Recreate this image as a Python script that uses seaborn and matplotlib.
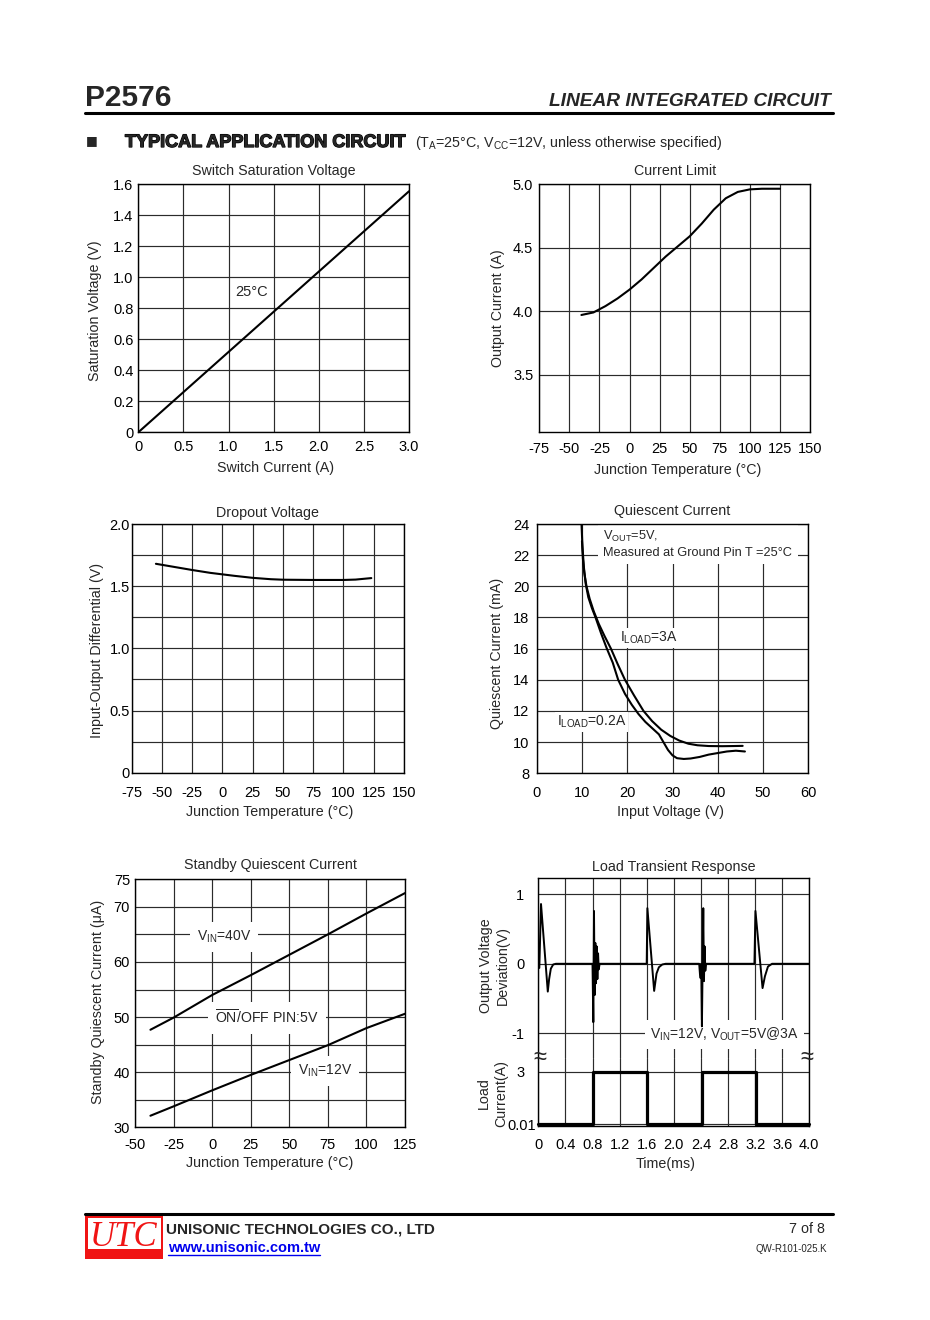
import matplotlib
matplotlib.use("Agg")
import matplotlib.pyplot as plt
import matplotlib.patheffects as pe
import seaborn as sns
from matplotlib.patches import Rectangle
from matplotlib.lines import Line2D

# ---- values ----
# Switch Saturation Voltage
sat_current = [0.0, 3.0]
sat_voltage = [0.0, 1.555]
sat_xticks = [0, 0.5, 1.0, 1.5, 2.0, 2.5, 3.0]
sat_xlabels = ['0', '0.5', '1.0', '1.5', '2.0', '2.5', '3.0']
sat_yticks = [0, 0.2, 0.4, 0.6, 0.8, 1.0, 1.2, 1.4, 1.6]
sat_ylabels = ['0', '0.2', '0.4', '0.6', '0.8', '1.0', '1.2', '1.4', '1.6']

# junction temperature axis (current limit / dropout)
temp_ticks = [-75, -50, -25, 0, 25, 50, 75, 100, 125, 150]
temp_labels = ['-75', '-50', '-25', '0', '25', '50', '75', '100', '125', '150']

# Current Limit
lim_temp = [-40, -30, -20, -10, 0, 10, 20, 30, 40, 50, 60, 70, 80, 90, 100, 110, 125]
lim_current = [3.97, 3.99, 4.04, 4.10, 4.17, 4.25, 4.34, 4.43, 4.51, 4.59, 4.69, 4.80,
               4.89, 4.94, 4.96, 4.965, 4.965]
lim_yticks = [3.5, 4.0, 4.5, 5.0]
lim_ylabels = ['3.5', '4.0', '4.5', '5.0']

# Dropout Voltage
drop_temp = [-55, -40, -25, -10, 0, 10, 25, 40, 50, 75, 100, 110, 123]
drop_volt = [1.68, 1.655, 1.63, 1.607, 1.595, 1.583, 1.567, 1.556, 1.552, 1.55, 1.55, 1.553, 1.565]
drop_yticks = [0, 0.5, 1.0, 1.5, 2.0]
drop_ylabels = ['0', '0.5', '1.0', '1.5', '2.0']
drop_yminor = [0.25, 0.75, 1.25, 1.75]

# Quiescent Current
q_vin_a = [9.9, 10.1, 10.4, 10.8, 11.4, 12.2, 13.0, 14.2, 15.5, 16.8, 18.0, 19.5, 21.0, 22.5,
           24.0, 25.5, 27.0, 28.0, 29.0, 30.0, 31.0, 32.5, 34.0, 36.0, 38.0, 40.0, 42.0, 44.0, 46.0]
q_cur_a = [24.0, 22.6, 21.3, 20.2, 19.3, 18.6, 18.0, 17.0, 16.0, 15.1, 14.0, 13.1, 12.4, 11.8,
           11.3, 10.9, 10.5, 10.0, 9.5, 9.15, 8.97, 8.92, 8.95, 9.05, 9.2, 9.3, 9.4, 9.45, 9.4]
q_vin_b = [10.0, 10.2, 10.5, 11.0, 11.7, 12.6, 13.7, 15.0, 16.4, 17.9, 19.5, 21.5, 23.6, 25.5,
           27.5, 29.5, 31.5, 33.5, 35.5, 38.0, 41.0, 43.5, 45.5]
q_cur_b = [22.9, 21.8, 20.9, 20.0, 19.2, 18.4, 17.6, 16.8, 16.0, 15.0, 14.0, 13.0, 12.0, 11.35,
           10.8, 10.4, 10.1, 9.9, 9.8, 9.75, 9.74, 9.75, 9.76]
q_xticks = [0, 10, 20, 30, 40, 50, 60]
q_yticks = [8, 10, 12, 14, 16, 18, 20, 22, 24]

# Standby Quiescent Current
sb_temp = [-40, -25, 0, 25, 50, 75, 100, 125]
sb_40v = [47.7, 49.9, 54.0, 57.6, 61.3, 65.0, 68.8, 72.5]
sb_12v = [32.1, 33.8, 36.7, 39.5, 42.2, 44.9, 48.0, 50.6]
sb_xticks = [-50, -25, 0, 25, 50, 75, 100, 125]
sb_xlabels = ['-50', '-25', '0', '25', '50', '75', '100', '125']
sb_yticks = [30, 40, 50, 60, 70, 75]
sb_yminor = [35, 45, 55, 65]

# Load Transient Response
tr_time = [0.0, 0.015, 0.04, 0.14, 0.16, 0.185, 0.22, 0.26,
           0.80, 0.812, 0.822, 0.832, 0.842, 0.852, 0.862, 0.872, 0.882, 0.892, 0.905,
           1.60, 1.61, 1.71, 1.745, 1.78, 1.83, 1.88,
           2.375, 2.39, 2.405, 2.415, 2.435, 2.445, 2.455, 2.465, 2.475,
           3.19, 3.205, 3.31, 3.345, 3.39, 3.45, 4.0]
tr_volt = [-0.06, -0.06, 0.86, -0.40, -0.22, -0.07, -0.01, 0.0,
           0.0, -0.84, 0.76, -0.45, 0.30, -0.28, 0.25, -0.22, 0.15, -0.08, 0.0,
           0.0, 0.80, -0.39, -0.14, -0.05, -0.01, 0.0,
           0.0, -0.2, 0.0, -0.9, 0.80, -0.25, 0.25, -0.1, 0.0,
           0.0, 0.76, -0.35, -0.18, -0.04, 0.0, 0.0]
tr_edges = [0.0, 0.81, 1.61, 2.41, 3.21, 4.0]
tr_load = [0.01, 3.0, 0.01, 3.0, 0.01, 0.01]
tr_xticks = [0, 0.4, 0.8, 1.2, 1.6, 2.0, 2.4, 2.8, 3.2, 3.6, 4.0]
tr_xlabels = ['0', '0.4', '0.8', '1.2', '1.6', '2.0', '2.4', '2.8', '3.2', '3.6', '4.0']

# ---- figure ----
sns.set_theme(style='white')
plt.rcParams['font.family'] = ['Liberation Sans', 'DejaVu Sans']
plt.rcParams['mathtext.fontset'] = 'custom'
plt.rcParams['mathtext.rm'] = 'Liberation Sans'
plt.rcParams['mathtext.it'] = 'Liberation Sans:italic'
plt.rcParams['mathtext.bf'] = 'Liberation Sans:bold'

W, H = 930, 1320
fig = plt.figure(figsize=(W / 100, H / 100), dpi=100)
fig.patch.set_facecolor('white')


def add_ax(l, t, r, b):
    return fig.add_axes([l / W, 1 - b / H, (r - l) / W, (b - t) / H])


def ftext(x, y, s, **kw):
    return fig.text(x / W, 1 - y / H, s, **kw)


def style(ax, xpad, ypad):
    ax.set_facecolor('white')
    for sp in ax.spines.values():
        sp.set_visible(True)
        sp.set_color('black')
        sp.set_linewidth(1.0)
    ax.tick_params(axis='both', which='both', length=0, labelsize=10.5, labelcolor='black')
    ax.tick_params(axis='x', which='both', pad=xpad)
    ax.tick_params(axis='y', which='both', pad=ypad)
    ax.grid(True, which='both', color='#2b2b2b', linewidth=0.85)
    ax.set_axisbelow(True)


def labels(ax, xl, yl, xpos, ypos):
    ax.set_xlabel(xl, fontsize=10.3, va='center')
    ax.xaxis.set_label_coords(*xpos)
    ax.set_ylabel(yl, fontsize=10.3, va='center')
    ax.yaxis.set_label_coords(*ypos)


line_kw = dict(color='black', linewidth=1.5, sort=False, estimator=None)
box = dict(facecolor='white', edgecolor='none', pad=4)

# Switch Saturation Voltage
ax1 = add_ax(138.3, 184.3, 409, 432.3)
sns.lineplot(x=sat_current, y=sat_voltage, ax=ax1, **line_kw)
ax1.set_xlim(0, 3.0)
ax1.set_ylim(0, 1.6)
ax1.set_xticks(sat_xticks, sat_xlabels)
ax1.set_yticks(sat_yticks, sat_ylabels)
style(ax1, 5.5, 3.6)
ax1.set_title('Switch Saturation Voltage', fontsize=10.3, pad=7)
labels(ax1, 'Switch Current (A)', 'Saturation Voltage (V)', (0.508, -0.145), (-0.16, 0.49))
ax1.text(1.07, 0.879, '25°C', fontsize=10.5, va='baseline')

# Current Limit
ax2 = add_ax(539.3, 184.3, 810, 431.7)
sns.lineplot(x=lim_temp, y=lim_current, ax=ax2, **line_kw)
ax2.set_xlim(-75, 150)
ax2.set_ylim(3.05, 5.0)
ax2.set_xticks(temp_ticks, temp_labels)
ax2.set_yticks(lim_yticks, lim_ylabels)
style(ax2, 7.5, 4.3)
ax2.set_title('Current Limit', fontsize=10.3, pad=6.7)
labels(ax2, 'Junction Temperature (°C)', 'Output Current (A)', (0.513, -0.155), (-0.151, 0.5))

# Dropout Voltage
ax3 = add_ax(131.7, 524, 404, 772.7)
sns.lineplot(x=drop_temp, y=drop_volt, ax=ax3, **line_kw)
ax3.set_xlim(-75, 150)
ax3.set_ylim(0, 2.0)
ax3.set_xticks(temp_ticks, temp_labels)
ax3.set_yticks(drop_yticks, drop_ylabels)
ax3.set_yticks(drop_yminor, minor=True)
style(ax3, 9.5, 1.2)
ax3.set_title('Dropout Voltage', fontsize=10.3, pad=5.3)
labels(ax3, 'Junction Temperature (°C)', 'Input-Output Differential (V)', (0.505, -0.157), (-0.128, 0.49))

# Quiescent Current
ax4 = add_ax(536.7, 524, 808.3, 773.3)
sns.lineplot(x=q_vin_a, y=q_cur_a, ax=ax4, **line_kw)
sns.lineplot(x=q_vin_b, y=q_cur_b, ax=ax4, **line_kw)
ax4.set_xlim(0, 60)
ax4.set_ylim(8, 24)
ax4.set_xticks(q_xticks, [str(v) for v in q_xticks])
ax4.set_yticks(q_yticks, [str(v) for v in q_yticks])
style(ax4, 9.3, 5.3)
ax4.set_title('Quiescent Current', fontsize=10.3, pad=6.5)
labels(ax4, 'Input Voltage (V)', 'Quiescent Current (mA)', (0.491, -0.154), (-0.145, 0.481))
ax4.text(14.7, 21.95, 'V$_{\\mathrm{OUT}}$=5V,\nMeasured at Ground Pin T =25°C', fontsize=9.2,
         va='baseline', linespacing=1.3, bbox=box, zorder=1.5, clip_on=True)
ax4.text(18.4, 16.45, 'I$_{\\mathrm{LOAD}}$=3A', fontsize=10, va='baseline',
         bbox=dict(facecolor='white', edgecolor='none', pad=1.5), zorder=1.5)
ax4.text(4.4, 11.05, 'I$_{\\mathrm{LOAD}}$=0.2A', fontsize=10, va='baseline',
         bbox=dict(facecolor='white', edgecolor='none', pad=1.5), zorder=1.5)

# Standby Quiescent Current
ax5 = add_ax(135, 879.3, 405, 1127.3)
sns.lineplot(x=sb_temp, y=sb_40v, ax=ax5, **line_kw)
sns.lineplot(x=sb_temp, y=sb_12v, ax=ax5, **line_kw)
ax5.set_xlim(-50, 125)
ax5.set_ylim(30, 75)
ax5.set_xticks(sb_xticks, sb_xlabels)
ax5.set_yticks(sb_yticks, [str(v) for v in sb_yticks])
ax5.set_yticks(sb_yminor, minor=True)
style(ax5, 7.5, 3.6)
ax5.set_title('Standby Quiescent Current', fontsize=10.3, pad=7.4)
labels(ax5, 'Junction Temperature (°C)', 'Standby Quiescent Current (μA)', (0.5, -0.143), (-0.136, 0.506))
ax5.text(-10, 63.8, 'V$_{\\mathrm{IN}}$=40V', fontsize=10, va='baseline', bbox=dict(box, pad=5), zorder=1.5)
ax5.text(1.85, 48.74, '$\\overline{\\mathrm{ON}}$/OFF PIN:5V', fontsize=10.2, va='baseline',
         bbox=dict(box, pad=5), zorder=1.5)
ax5.text(55.8, 39.5, 'V$_{\\mathrm{IN}}$=12V', fontsize=10, va='baseline', bbox=dict(box, pad=5), zorder=1.5)

# Load Transient Response: voltage part on top, load current below
ax6 = add_ax(538.3, 878.3, 809.3, 1058.3)
ax7 = add_ax(538.3, 1058.3, 809.3, 1125.5)
sns.lineplot(x=tr_time, y=tr_volt, ax=ax6, color='black', linewidth=1.4, sort=False, estimator=None)
sns.lineplot(x=tr_edges, y=tr_load, ax=ax7, color='black', linewidth=2.3, sort=False,
             estimator=None, drawstyle='steps-post', clip_on=False)
for ax in (ax6, ax7):
    ax.set_xlim(0, 4.0)
    ax.set_xticks(tr_xticks, tr_xlabels)
ax6.set_ylim(-1.36, 1.23)
ax6.set_yticks([-1, 0, 1], ['-1', '0', '1'])
ax7.set_ylim(-0.05, 3.77)
ax7.set_yticks([3], ['3'])
ax7.set_yticks([0.01], ['0.01'], minor=True)
style(ax6, 9.3, 10)
style(ax7, 9.3, 10)
ax7.tick_params(axis='y', which='minor', pad=1.5)
ax6.tick_params(labelbottom=False)
ax6.spines['bottom'].set_visible(False)
ax7.spines['top'].set_visible(False)
ax6.set_title('Load Transient Response', fontsize=10.3, pad=5.5)
ax6.set_ylabel('Output Voltage\nDeviation(V)', fontsize=10.3, va='center', linespacing=1.25)
ax6.yaxis.set_label_coords(-0.163, 0.513)
ax7.set_ylabel('Load\nCurrent(A)', fontsize=10.3, va='center', linespacing=1.25)
ax7.yaxis.set_label_coords(-0.169, 0.48)
ax7.set_xlabel('Time(ms)', fontsize=10.3, va='center')
ax7.xaxis.set_label_coords(0.47, -0.574)
ax6.text(1.65, -1.076, 'V$_{\\mathrm{IN}}$=12V, V$_{\\mathrm{OUT}}$=5V@3A', fontsize=10, va='baseline',
         bbox=box, zorder=1.5)
ftext(540, 1058, '≈', fontsize=17, ha='center', va='center')
ftext(807, 1058, '≈', fontsize=17, ha='center', va='center')

# ---- page header ----
ftext(85, 106, 'P2576', fontsize=21.5, fontweight='bold', va='baseline')
ftext(831, 106, 'LINEAR INTEGRATED CIRCUIT', fontsize=13.8, fontweight='bold', style='italic',
      ha='right', va='baseline')
fig.add_artist(Line2D([85 / W, 833 / W], [1 - 113 / H] * 2, color='black', linewidth=2.2))
ftext(92, 141, '■', fontsize=9, family='DejaVu Sans', ha='center', va='center')
ftext(125, 147, 'TYPICAL APPLICATION CIRCUIT', fontsize=13, fontweight='bold', va='baseline',
      path_effects=[pe.withStroke(linewidth=0.9, foreground='black')])
ftext(415, 147, '(T$_{\\mathrm{A}}$=25°C, V$_{\\mathrm{CC}}$=12V, unless otherwise specified)',
      fontsize=10.3, va='baseline')

# ---- page footer ----
fig.add_artist(Line2D([85 / W, 833 / W], [1 - 1214 / H] * 2, color='black', linewidth=2.2))
red = '#f01414'
fig.add_artist(Rectangle((85 / W, 1 - 1259 / H), 78 / W, 44 / H, transform=fig.transFigure,
                         facecolor=red, edgecolor='none'))
fig.add_artist(Rectangle((87.5 / W, 1 - 1249 / H), 73.5 / W, 31 / H, transform=fig.transFigure,
                         facecolor='white', edgecolor='none'))
ftext(124, 1246, 'UTC', fontsize=25, color=red, family='Liberation Serif', style='italic',
      ha='center', va='baseline')
ftext(166, 1233, 'UNISONIC TECHNOLOGIES CO., LTD', fontsize=11, fontweight='bold', va='baseline')
ftext(168, 1252, 'www.unisonic.com.tw', fontsize=10.5, fontweight='bold', color='#0000ee', va='baseline')
fig.add_artist(Line2D([168 / W, 320 / W], [1 - 1254.5 / H] * 2, color='#0000ee', linewidth=1))
ftext(825, 1233, '7 of 8', fontsize=10.3, ha='right', va='baseline')
ftext(827, 1252, 'QW-R101-025.K', fontsize=7, ha='right', va='baseline')

fig.savefig('out.png', dpi=100, facecolor='white')
